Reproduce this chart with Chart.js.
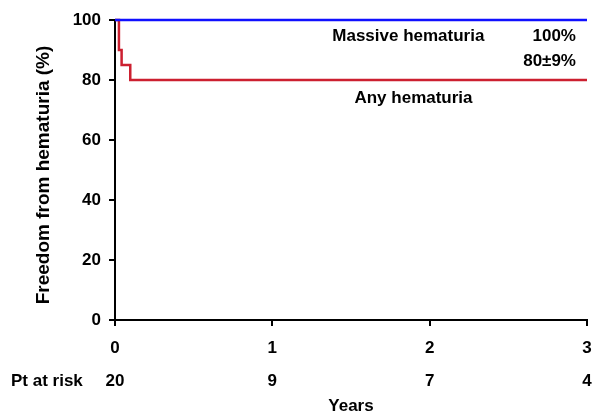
<!DOCTYPE html>
<html>
<head>
<meta charset="utf-8">
<script src="https://cdn.jsdelivr.net/npm/chart.js@4/dist/chart.umd.min.js"></script>
<style>
  html, body { margin: 0; padding: 0; background: #fff; }
  canvas { display: block; }
</style>
</head>
<body>
<canvas id="kmChart" width="594" height="419"></canvas>
<script>
// Kaplan-Meier style curves, freedom from hematuria
const massiveYears = [0, 3];
const massiveValues = [100, 100];
const anyYears = [0, 0.025, 0.042, 0.097, 3];
const anyValues = [100, 90, 85, 80, 80];

const xTicks = [0, 1, 2, 3];
const yTicks = [0, 20, 40, 60, 80, 100];
const riskYears = [0, 1, 2, 3];
const riskCounts = [20, 9, 7, 4];

const FONT = "'Liberation Sans', Arial, sans-serif";

const toPoints = (xs, ys) => xs.map((x, i) => ({ x: x, y: ys[i] }));

// draws annotations, the risk table and axis titles
const extrasPlugin = {
  id: "extras",
  afterDraw(chart) {
    const ctx = chart.ctx;
    const xs = chart.scales.x;
    const ys = chart.scales.y;
    ctx.save();
    ctx.fillStyle = "#000";
    ctx.font = "bold 17px " + FONT;
    ctx.textBaseline = "middle";

    ctx.textAlign = "left";
    ctx.fillText("Massive hematuria", xs.getPixelForValue(1.381), ys.getPixelForValue(94.6));
    ctx.fillText("Any hematuria", xs.getPixelForValue(1.522), ys.getPixelForValue(73.9));
    ctx.textAlign = "right";
    ctx.fillText("100%", xs.getPixelForValue(2.93), ys.getPixelForValue(94.6));
    ctx.fillText("80\u00b19%", xs.getPixelForValue(2.93), ys.getPixelForValue(86.2));

    // patients at risk row
    const riskY = 381;
    ctx.textAlign = "left";
    ctx.fillText("Pt at risk", 11, riskY);
    ctx.textAlign = "center";
    riskYears.forEach((yr, i) => {
      ctx.fillText(String(riskCounts[i]), xs.getPixelForValue(yr), riskY);
    });

    // x title
    ctx.fillText("Years", (xs.left + xs.right) / 2, 406);

    // y title
    ctx.font = "bold 19px " + FONT;
    ctx.translate(44, (ys.top + ys.bottom) / 2 + 5);
    ctx.rotate(-Math.PI / 2);
    ctx.fillText("Freedom from hematuria (%)", 0, 0);
    ctx.restore();
  }
};

new Chart(document.getElementById("kmChart"), {
  type: "line",
  data: {
    datasets: [
      {
        label: "Massive hematuria",
        data: toPoints(massiveYears, massiveValues),
        borderColor: "#1010ff",
        borderWidth: 2.5,
        pointRadius: 0,
        fill: false,
        clip: 4
      },
      {
        label: "Any hematuria",
        data: toPoints(anyYears, anyValues),
        borderColor: "#cc2030",
        borderWidth: 2.5,
        pointRadius: 0,
        stepped: "before",
        fill: false,
        clip: 4
      }
    ]
  },
  options: {
    responsive: false,
    animation: false,
    devicePixelRatio: 1,
    layout: { padding: { top: 20, right: 7, left: 0, bottom: 0 } },
    plugins: {
      legend: { display: false },
      tooltip: { enabled: false }
    },
    scales: {
      x: {
        type: "linear",
        min: 0,
        max: 3,
        afterFit: (s) => {
          s.height = 99;
          s.paddingLeft = 0;
          s.paddingRight = 0;
        },
        afterBuildTicks: (s) => { s.ticks = xTicks.map((v) => ({ value: v })); },
        ticks: {
          color: "#000",
          font: { family: FONT, size: 17, weight: "bold" },
          padding: 12,
          maxRotation: 0
        },
        grid: {
          drawOnChartArea: false,
          drawTicks: true,
          tickLength: 6,
          color: "#000",
          lineWidth: 2
        },
        border: { color: "#000", width: 2 }
      },
      y: {
        min: 0,
        max: 100,
        afterFit: (s) => {
          s.width = 115;
          s.paddingTop = 0;
          s.paddingBottom = 0;
        },
        afterBuildTicks: (s) => { s.ticks = yTicks.map((v) => ({ value: v })); },
        ticks: {
          color: "#000",
          font: { family: FONT, size: 17, weight: "bold" },
          padding: 8
        },
        grid: {
          drawOnChartArea: false,
          drawTicks: true,
          tickLength: 6,
          color: "#000",
          lineWidth: 2
        },
        border: { color: "#000", width: 2 }
      }
    }
  },
  plugins: [extrasPlugin]
});
</script>
</body>
</html>
